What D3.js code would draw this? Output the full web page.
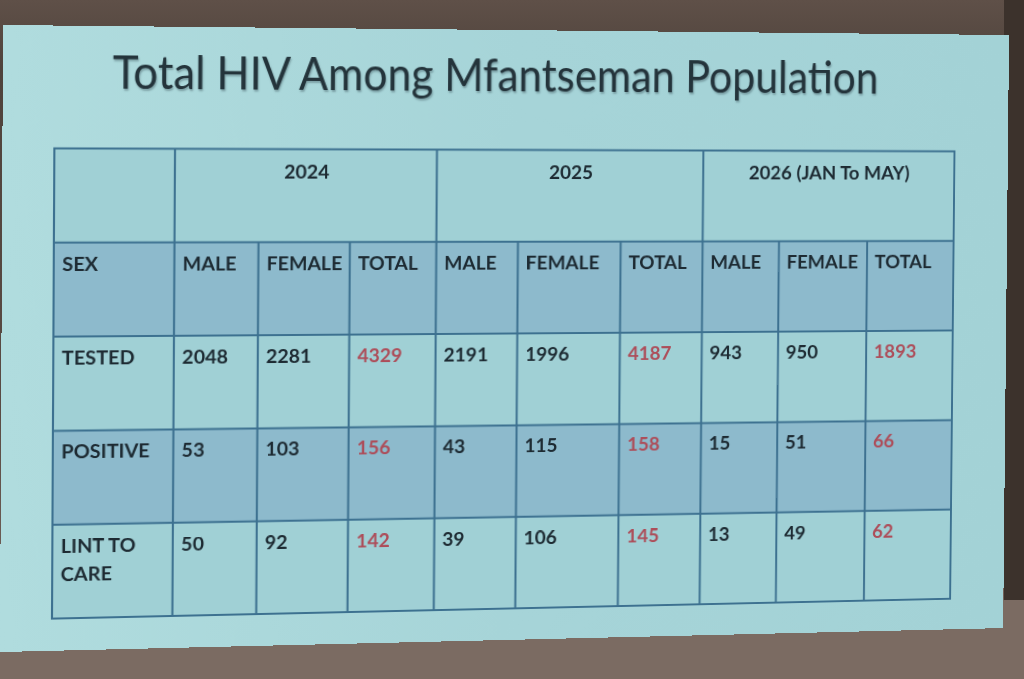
<!DOCTYPE html>
<html>
<head>
<meta charset="utf-8">
<script src="https://cdn.jsdelivr.net/npm/d3@7"></script>
<style>
  html, body { margin:0; padding:0; width:1024px; height:679px; overflow:hidden; }
  body { background: linear-gradient(to bottom, #5f5048 0%, #4f433c 10%, #5a4b44 60%, #7c6b63 100%); position:relative; }
  #rightstrip { position:absolute; left:1004px; top:0; width:20px; height:640px; background:#3c322c; }
  #bottom { position:absolute; left:0; top:600px; width:1024px; height:79px; background:#7b6b62; }
  #slide { position:absolute; left:0; top:0; transform-origin:0 0; }
</style>
</head>
<body>
<div id="rightstrip"></div>
<div id="bottom"></div>
<svg id="slide" width="1000" height="620"></svg>
<script>
// ---- data ----
const title = "Total HIV Among Mfantseman Population";
const years = ["2024", "2025", "2026 (JAN To MAY)"];
const sexes = ["MALE", "FEMALE", "TOTAL"];
const cornerLabel = "SEX";
const rowLabels = ["TESTED", "POSITIVE", "LINT TO CARE"];
const tested   = [2048, 2281, 4329, 2191, 1996, 4187, 943, 950, 1893];
const positive = [53, 103, 156, 43, 115, 158, 15, 51, 66];
const linked   = [50, 92, 142, 39, 106, 145, 13, 49, 62];
const rowValues = [tested, positive, linked];

// ---- layout ----
const W = 1000, H = 620;
const colWeights = [115, 81, 89, 85, 81, 103, 83, 78, 91, 90];
const tbl = { x0: 49, x1: 944, y0: 121.5, y1: 588 };
const slideQuad = [[3, 25], [1009, 35], [1003, 628], [0, 652]];
const C = {
  bg: "#a7d5d8", light: "#a0d0d5", blue: "#8dbacc", line: "#3d7190",
  text: "#1d2a32", red: "#ad4d59", title: "#24343b"
};
const font = "Lato, 'Open Sans', sans-serif";

// perspective (homography) to mimic the photographed slide
function homography(src, dst) {
  const A = [], B = [];
  for (let i = 0; i < 4; i++) {
    const [x, y] = src[i], [u, v] = dst[i];
    A.push([x, y, 1, 0, 0, 0, -u * x, -u * y]); B.push(u);
    A.push([0, 0, 0, x, y, 1, -v * x, -v * y]); B.push(v);
  }
  const n = 8;
  for (let i = 0; i < n; i++) {
    let p = i;
    for (let r = i + 1; r < n; r++) if (Math.abs(A[r][i]) > Math.abs(A[p][i])) p = r;
    [A[i], A[p]] = [A[p], A[i]]; [B[i], B[p]] = [B[p], B[i]];
    for (let r = 0; r < n; r++) {
      if (r === i) continue;
      const f = A[r][i] / A[i][i];
      for (let c = i; c < n; c++) A[r][c] -= f * A[i][c];
      B[r] -= f * B[i];
    }
  }
  return B.map((b, i) => b / A[i][i]);
}
const [a, b, c, d, e, f, g, h] = homography([[0, 0], [W, 0], [W, H], [0, H]], slideQuad);
document.getElementById("slide").style.transform =
  `matrix3d(${a},${d},0,${g},${b},${e},0,${h},0,0,1,0,${c},${f},0,1)`;

const svg = d3.select("#slide");

// slide background
const grad = svg.append("defs").append("linearGradient").attr("id", "lg")
  .attr("x1", "0").attr("x2", "1").attr("y1", "0").attr("y2", "0");
grad.append("stop").attr("offset", "0").attr("stop-color", "#b0dcde");
grad.append("stop").attr("offset", "0.5").attr("stop-color", "#a6d4d8");
grad.append("stop").attr("offset", "1").attr("stop-color", "#a3d2d6");
svg.append("rect").attr("width", W).attr("height", H).attr("fill", "url(#lg)");

// title
svg.append("text")
  .attr("x", 484).attr("y", 62)
  .attr("text-anchor", "middle")
  .attr("font-family", font).attr("font-size", 46)
  .attr("fill", C.title)
  .attr("textLength", 760).attr("lengthAdjust", "spacingAndGlyphs")
  .style("text-shadow", "1px 2px 2px rgba(40,60,70,0.35)")
  .text(title);

// scales
const cum = [0]; colWeights.forEach(w => cum.push(cum[cum.length - 1] + w));
const xs = d3.scaleLinear().domain([0, cum[cum.length - 1]]).range([tbl.x0, tbl.x1]);
const colX = i => xs(cum[i]);
const rowKeys = ["year", "sex"].concat(rowLabels);
const ys = d3.scaleBand().domain(rowKeys).range([tbl.y0, tbl.y1]);

// row fills
const rowFill = { year: C.light, sex: C.blue, TESTED: C.light, POSITIVE: C.blue, "LINT TO CARE": C.light };
svg.selectAll("rect.row").data(rowKeys).join("rect")
  .attr("class", "row")
  .attr("x", tbl.x0).attr("y", k => ys(k))
  .attr("width", tbl.x1 - tbl.x0).attr("height", ys.bandwidth())
  .attr("fill", k => rowFill[k]);

// grid lines
const grid = svg.append("g").attr("stroke", C.line).attr("stroke-width", 2).attr("fill", "none");
rowKeys.slice(1).forEach(k => {
  grid.append("line").attr("x1", tbl.x0).attr("x2", tbl.x1).attr("y1", ys(k)).attr("y2", ys(k));
});
d3.range(1, colWeights.length).forEach(i => {
  const top = (i % 3 === 1) ? tbl.y0 : ys("sex");
  grid.append("line").attr("x1", colX(i)).attr("x2", colX(i)).attr("y1", top).attr("y2", tbl.y1);
});
grid.append("rect").attr("x", tbl.x0).attr("y", tbl.y0)
  .attr("width", tbl.x1 - tbl.x0).attr("height", tbl.y1 - tbl.y0);

// text helpers
const txt = svg.append("g").attr("font-family", font).attr("font-weight", 700)
  .attr("font-size", 19).attr("fill", C.text);
const pad = 8, base = 28, lineH = 28;

// year header
txt.selectAll("text.year").data(years).join("text")
  .attr("class", "year")
  .attr("x", (y, i) => (colX(1 + 3 * i) + colX(4 + 3 * i)) / 2)
  .attr("y", ys("year") + 30)
  .attr("text-anchor", "middle")
  .text(y => y);

// sub header
const subHead = [cornerLabel].concat(years.flatMap(() => sexes));
txt.selectAll("text.sub").data(subHead).join("text")
  .attr("class", "sub")
  .attr("x", (s, i) => colX(i) + pad)
  .attr("y", ys("sex") + base)
  .text(s => s);

// row labels with wrapping
rowLabels.forEach(lbl => {
  const t = txt.append("text").attr("x", colX(0) + pad).attr("y", ys(lbl) + base);
  const maxW = colX(1) - colX(0) - 2 * pad;
  const words = lbl.split(" ");
  let line = [], tspan = t.append("tspan").attr("x", colX(0) + pad);
  words.forEach(w => {
    line.push(w);
    tspan.text(line.join(" "));
    if (tspan.node().getComputedTextLength() > maxW && line.length > 1) {
      line.pop(); tspan.text(line.join(" "));
      line = [w];
      tspan = t.append("tspan").attr("x", colX(0) + pad).attr("dy", lineH).text(w);
    }
  });
});

// values
rowLabels.forEach((lbl, r) => {
  txt.selectAll(null).data(rowValues[r]).join("text")
    .attr("x", (v, i) => colX(i + 1) + pad)
    .attr("y", ys(lbl) + base)
    .attr("fill", (v, i) => (i % 3 === 2) ? C.red : C.text)
    .text(v => v);
});
</script>
</body>
</html>
